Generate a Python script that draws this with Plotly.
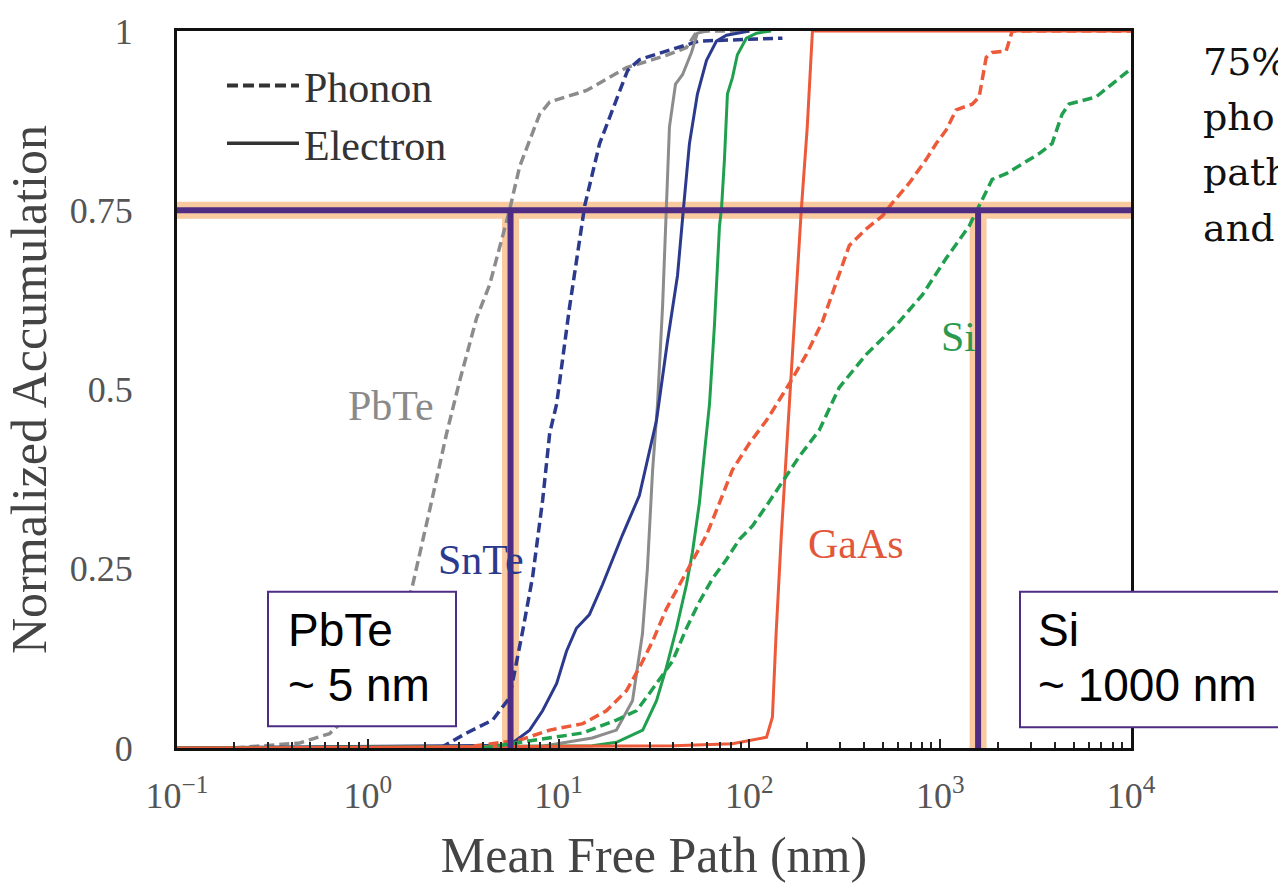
import plotly.graph_objects as go

# ---------------- data ----------------
pbte_ph_x = [0.2, 0.3, 0.44, 0.63, 1.0, 1.3, 1.7, 2.11, 2.59, 3.03, 3.72, 4.35, 5.53, 6.25, 7.96, 8.98, 14.0, 22.7, 36.7, 46.8, 53.4, 100]
pbte_ph_y = [0.0, 0.003, 0.007, 0.02, 0.07, 0.14, 0.222, 0.332, 0.439, 0.512, 0.600, 0.646, 0.75, 0.811, 0.884, 0.901, 0.917, 0.949, 0.966, 0.977, 1.0, 1.0]

snte_ph_x = [2.4, 3.3, 4.51, 5.53, 6.48, 7.31, 8.25, 8.98, 9.77, 11.4, 13.7, 16.4, 23.0, 26.5, 36.7, 54.7, 149]
snte_ph_y = [0.0, 0.021, 0.039, 0.070, 0.163, 0.239, 0.346, 0.439, 0.48, 0.614, 0.756, 0.843, 0.945, 0.960, 0.972, 0.986, 0.990]

pbte_el_x = [0.1, 8.0, 11.0, 15.0, 20.1, 24.4, 27.5, 29.2, 31.1, 33.0, 35.1, 36.8, 38.1, 41.0, 44.6, 49.7, 53.4, 60]
pbte_el_y = [0.0, 0.002, 0.008, 0.014, 0.025, 0.066, 0.159, 0.250, 0.388, 0.480, 0.618, 0.750, 0.866, 0.926, 0.939, 0.970, 0.997, 1.0]

snte_el_x = [0.1, 5.53, 7.05, 8.24, 9.77, 11.0, 12.4, 14.5, 17.0, 21.6, 26.5, 29.9, 32.6, 37.2, 42.0, 45.1, 48.5, 53.4, 59.6, 67.2, 75.8, 100]
snte_el_y = [0.0, 0.004, 0.025, 0.052, 0.090, 0.135, 0.167, 0.186, 0.228, 0.297, 0.352, 0.411, 0.457, 0.567, 0.659, 0.752, 0.843, 0.912, 0.959, 0.986, 0.994, 1.0]

si_el_x = [0.1, 15, 20.1, 27.6, 32.6, 36.7, 41.5, 46.8, 50.3, 54.7, 58.1, 61.8, 65.6, 69.7, 71.4, 74.0, 76.7, 81.5, 86.5, 96.4, 109, 130]
si_el_y = [0.0, 0.003, 0.008, 0.025, 0.066, 0.112, 0.167, 0.228, 0.273, 0.342, 0.411, 0.480, 0.590, 0.728, 0.752, 0.821, 0.912, 0.935, 0.967, 0.990, 0.997, 1.0]

gaas_el_x = [0.1, 40, 81.5, 123, 132, 138, 147, 156, 162, 174, 187, 201, 214, 10000]
gaas_el_y = [0.0, 0.003, 0.006, 0.015, 0.043, 0.159, 0.297, 0.411, 0.480, 0.618, 0.750, 0.866, 1.0, 1.0]

gaas_ph_x = [3.0, 6.25, 8.98, 13.4, 17.8, 22.7, 26.5, 31.1, 36.7, 43.0, 50.3, 59.6, 69.7, 81.5, 100, 123, 162, 199, 241, 285, 334, 410, 497, 561, 689, 845, 953, 1075, 1213, 1472, 1600, 1742, 1872, 2217, 2384, 10000]
gaas_ph_y = [0.0, 0.011, 0.025, 0.034, 0.052, 0.080, 0.112, 0.149, 0.194, 0.228, 0.263, 0.297, 0.342, 0.388, 0.425, 0.457, 0.508, 0.549, 0.594, 0.650, 0.701, 0.724, 0.742, 0.760, 0.788, 0.821, 0.843, 0.862, 0.890, 0.898, 0.908, 0.963, 0.970, 0.972, 1.0, 1.0]

si_ph_x = [4.0, 7.31, 13.4, 20.1, 25.6, 29.9, 39.5, 46.8, 54.7, 64.0, 75.8, 88.7, 104, 123, 144, 183, 232, 296, 410, 589, 806, 1075, 1419, 1600, 1872, 2217, 3300, 3858, 4353, 4731, 6556, 7955, 9770]
si_ph_y = [0.0, 0.011, 0.021, 0.039, 0.052, 0.076, 0.121, 0.167, 0.204, 0.236, 0.263, 0.291, 0.310, 0.338, 0.366, 0.407, 0.443, 0.503, 0.549, 0.590, 0.632, 0.683, 0.728, 0.756, 0.793, 0.801, 0.829, 0.843, 0.884, 0.898, 0.908, 0.926, 0.945]

level_75 = 0.75
marker_mfp = [5.6, 1580]          # PbTe, Si  (nm at 75 % accumulation)
x_range = [0.1, 10000]

x_tickvals = [0.1, 1, 10, 100, 1000, 10000]
x_ticktext = ["10<sup>−1</sup>", "10<sup>0</sup>", "10<sup>1</sup>", "10<sup>2</sup>", "10<sup>3</sup>", "10<sup>4</sup>"]
x_minor_mult = [2, 3, 4, 5, 6, 7, 8, 9]
y_tickvals = [0, 0.25, 0.5, 0.75, 1]
y_ticktext = ["0", "0.25", "0.5", "0.75", "1"]

# ---------------- styling ----------------
GREY = "#8c8c8c"
NAVY = "#2c3a8e"
GREEN = "#20a04e"
RED = "#ec5a3a"
PURPLE = "#4e2c84"
GLOW = "#f9c9a0"
SERIF = "Liberation Serif, Times New Roman, serif"
SANS = "Liberation Sans, Arial, sans-serif"
DASH = "10px,5px"

W, H = 1278, 888
L, R, T, B = 177, 147, 23, 140
PW, PH = W - L - R, H - T - B


def xp(px):
    return (px - L) / PW


def yp(py):
    return (H - B - py) / PH


fig = go.Figure()

curves = [
    (pbte_ph_x, pbte_ph_y, GREY, DASH),
    (snte_ph_x, snte_ph_y, NAVY, DASH),
    (pbte_el_x, pbte_el_y, GREY, "solid"),
    (snte_el_x, snte_el_y, NAVY, "solid"),
    (si_el_x, si_el_y, GREEN, "solid"),
    (gaas_el_x, gaas_el_y, RED, "solid"),
    (gaas_ph_x, gaas_ph_y, RED, DASH),
    (si_ph_x, si_ph_y, GREEN, DASH),
]
for xs, ys, col, dash in curves:
    fig.add_trace(go.Scatter(x=xs, y=ys, mode="lines", showlegend=False,
                             line=dict(color=col, width=3.5 if dash != "solid" else 3, dash=dash),
                             hoverinfo="skip"))

# legend entries
fig.add_trace(go.Scatter(x=[None], y=[None], mode="lines", name="Phonon",
                         line=dict(color="#333333", width=4, dash="11px,5px")))
fig.add_trace(go.Scatter(x=[None], y=[None], mode="lines", name="Electron",
                         line=dict(color="#333333", width=3.5)))

shapes = []
# glow (behind curves)
shapes.append(dict(type="line", xref="x", yref="y", x0=x_range[0], x1=x_range[1], y0=level_75, y1=level_75,
                   line=dict(color=GLOW, width=17), layer="below"))
for m in marker_mfp:
    shapes.append(dict(type="line", xref="x", yref="y", x0=m, x1=m, y0=-0.01, y1=level_75,
                       line=dict(color=GLOW, width=17), layer="below"))
# purple guide lines
shapes.append(dict(type="line", xref="x", yref="y", x0=x_range[0], x1=x_range[1], y0=level_75, y1=level_75,
                   line=dict(color=PURPLE, width=6), layer="above"))
for m in marker_mfp:
    shapes.append(dict(type="line", xref="x", yref="y", x0=m, x1=m, y0=-0.01, y1=level_75,
                       line=dict(color=PURPLE, width=6), layer="above"))
# callout boxes
shapes.append(dict(type="rect", xref="paper", yref="paper", x0=xp(268), x1=xp(456), y0=yp(726), y1=yp(590),
                   line=dict(color=PURPLE, width=2), fillcolor="white", layer="above"))
shapes.append(dict(type="rect", xref="paper", yref="paper", x0=xp(1020), x1=xp(1300), y0=yp(727), y1=yp(590),
                   line=dict(color=PURPLE, width=2), fillcolor="white", layer="above"))

ann = []


def label(text, x, y, size, color, family=SERIF, anchor="center"):
    ann.append(dict(text=text, x=xp(x), y=yp(y), xref="paper", yref="paper", showarrow=False,
                    xanchor=anchor, yanchor="middle", font=dict(size=size, color=color, family=family)))


# series labels
label("PbTe", 391, 402, 42, "#8a8a8a")
label("SnTe", 481, 558, 42, NAVY)
label("GaAs", 856, 542, 42, "#e2573a")
label("Si", 958, 332, 42, "#2a9a50")
# callout texts
label("PbTe", 286, 629, 46, "black", SANS, "left")
label("~ 5 nm", 286, 684, 46, "black", SANS, "left")
label("Si", 1036, 629, 46, "black", SANS, "left")
label("~ 1000 nm", 1036, 684, 46, "black", SANS, "left")
# slide text cut at the right edge (as in the reference)
for txt, base in [("75%", 75), ("pho", 131), ("path", 187), ("and", 243)]:
    label(txt, 1201, base - 21, 38, "#111111", "DejaVu Serif, serif", "left")

minor_vals = [m * 10 ** e for e in range(-1, 4) for m in x_minor_mult]

fig.update_layout(
    width=W, height=H,
    margin=dict(l=L, r=R, t=T, b=B, pad=0),
    paper_bgcolor="white", plot_bgcolor="white",
    shapes=shapes, annotations=ann,
    showlegend=True,
    legend=dict(x=xp(222), y=yp(44), xanchor="left", yanchor="top",
                font=dict(family=SERIF, size=42, color="#333333"),
                bgcolor="rgba(0,0,0,0)", itemwidth=72, tracegroupgap=0),
    xaxis=dict(type="log", range=[-1, 4], showgrid=False, zeroline=False,
               showline=True, linecolor="#111111", linewidth=3, mirror=True,
               tickmode="array", tickvals=x_tickvals, ticktext=x_ticktext,
               ticks="inside", ticklen=9, tickwidth=2, tickcolor="#222222",
               minor=dict(tickmode="array", tickvals=minor_vals, ticks="inside", ticklen=6,
                          tickwidth=2, tickcolor="#222222", showgrid=False),
               tickfont=dict(family=SERIF, size=36, color="#555555"),
               ticklabelstandoff=14,
               title=dict(text="Mean Free Path (nm)", standoff=22,
                          font=dict(family=SERIF, size=50, color="#444444"))),
    yaxis=dict(range=[0, 1], showgrid=False, zeroline=False,
               showline=True, linecolor="#111111", linewidth=3, mirror=True,
               tickvals=y_tickvals, ticktext=y_ticktext, ticks="",
               tickfont=dict(family=SERIF, size=36, color="#555555"),
               ticklabelstandoff=34,
               title=dict(text="Normalized Accumulation", standoff=8,
                          font=dict(family=SERIF, size=50, color="#444444"))),
)

fig.write_html("out.html")
